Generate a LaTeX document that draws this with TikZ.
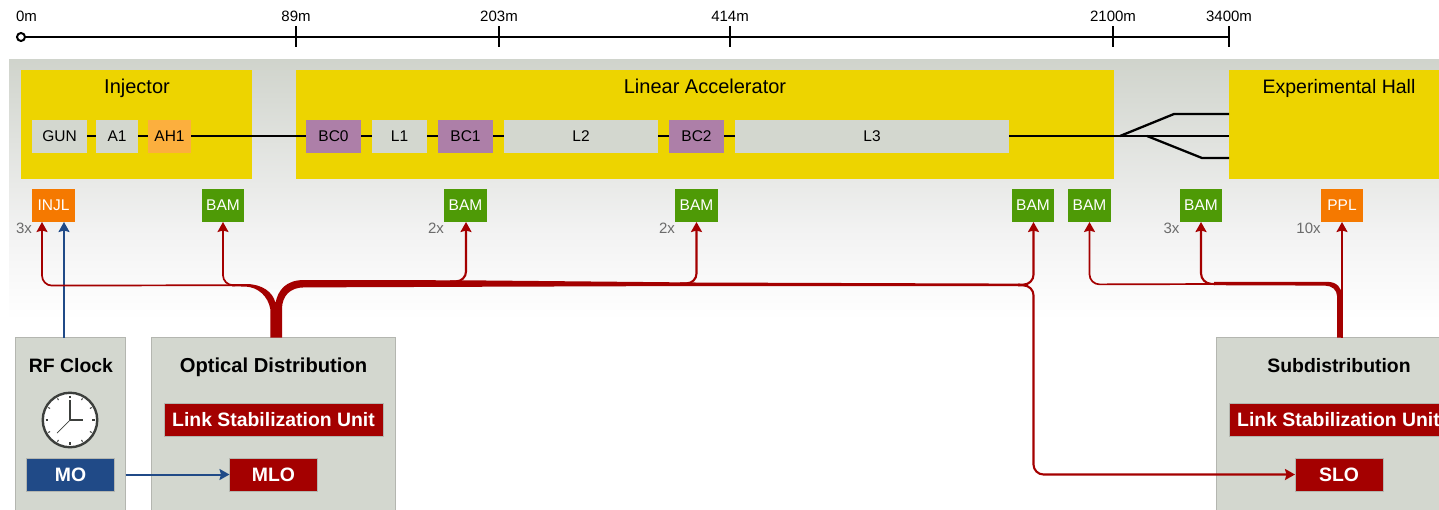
\documentclass[tikz,border=0pt]{standalone}
\usepackage{fontspec}
\setmainfont{Liberation Sans}
\usetikzlibrary{arrows.meta,calc}
\definecolor{tyellow}{HTML}{EDD400}
\definecolor{tgray}{HTML}{D3D7CF}
\definecolor{tborder}{HTML}{B4B6B0}
\definecolor{torange}{HTML}{F57900}
\definecolor{tlorange}{HTML}{FCAF3E}
\definecolor{tpurple}{HTML}{AD7FA8}
\definecolor{tgreen}{HTML}{4E9A06}
\definecolor{tred}{HTML}{A40000}
\definecolor{tblue}{HTML}{204A87}
\definecolor{tdark}{HTML}{3C3F3C}
\tikzset{
  x=1pt,y=-1pt,
  sz/.style={font=\fontsize{#1}{#1}\selectfont},
  box/.style={rectangle,inner sep=0pt,outer sep=0pt,minimum height=33pt},
  comp/.style={box,fill=tgray,text=black,sz=15.5},
  bc/.style={box,fill=tpurple,text=black,sz=15.5},
  diag/.style={box,text=white,sz=15.5,minimum width=42.5pt},
  bam/.style={diag,fill=tgreen},
  orng/.style={diag,fill=torange},
  unit/.style={box,fill=tred,draw=tborder,line width=.5pt,text=white,font=\fontsize{19.4}{19.4}\selectfont\bfseries},
  section/.style={rectangle,inner sep=0pt,outer sep=0pt,fill=tyellow,minimum height=109pt,anchor=north west},
  house/.style={rectangle,inner sep=0pt,outer sep=0pt,fill=tgray,draw=tborder,line width=.8pt,minimum height=180pt,anchor=north west},
  sectitle/.style={inner sep=0pt,anchor=base,sz=20},
  housetitle/.style={inner sep=0pt,anchor=base,font=\fontsize{19.4}{19.4}\selectfont\bfseries},
  dist/.style={inner sep=0pt,sz=15},
  count/.style={inner sep=0pt,sz=15,text=black!58},
  beam/.style={line width=2.3pt,black},
  tick/.style={line width=1.9pt,black},
  rthin/.style={draw=tred,line width=1.7pt,rounded corners=10pt},
  rmid/.style={draw=tred,line width=2.1pt,rounded corners=10pt},
  tip/.style={-{Stealth[length=10pt,width=11pt,inset=1.5pt]}},
  bthin/.style={draw=tblue,line width=2pt},
}
\begin{document}
\begin{tikzpicture}
\useasboundingbox (0,0) rectangle (1439,509);
\clip (0,0) rectangle (1439,509);
% band
\fill[top color=tgray!98!black!98,bottom color=black!5!white] (9,59) rectangle (1439,231);
\fill[top color=black!5!white,bottom color=white] (9,230.5) rectangle (1439,320);
% axis
\coordinate (ax0) at (21,37);
\node[draw=black,line width=2pt,circle,minimum size=8pt,inner sep=0pt,outer sep=0pt] (origin) at (ax0) {};
\foreach \n/\x/\lab in {t1/296/89m,t2/499/203m,t3/730/414m,t4/1113/2100m,t5/1229/3400m}{
  \coordinate (\n) at (\x,37);
  \draw[tick] (\x,26) -- (\x,47);
  \node[dist] (\n l) at (\x,16) {\lab};
}
\node[dist] (t0l) at (26.5,16) {0m};
\draw[beam] (origin) -- (t5);
% sections
\node[section,minimum width=231pt] (inj) at (21,70) {};
\node[section,minimum width=818.5pt] (lin) at (295.5,70) {};
\node[section,minimum width=215pt] (exp) at (1229,70) {};
\node[sectitle] at (137,93.5) {Injector};
\node[sectitle] at (705,93.5) {Linear Accelerator};
\node[sectitle,sz=19.5] at (1339,93.5) {Experimental Hall};
% beamline
\node[comp,minimum width=55pt] (gun) at (59.5,136) {GUN};
\node[comp,minimum width=42pt] (a1) at (117,136) {A1};
\node[box,fill=tlorange,text=black,sz=15.5,minimum width=43pt] (ah1) at (169.5,136) {AH1};
\node[bc,minimum width=55pt] (bc0) at (333.5,136) {BC0};
\node[comp,minimum width=55pt] (l1) at (399.5,136) {L1};
\node[bc,minimum width=55pt] (bc1) at (465.5,136) {BC1};
\node[comp,minimum width=154pt] (l2) at (581,136) {L2};
\node[bc,minimum width=55pt] (bc2) at (696.5,136) {BC2};
\node[comp,minimum width=274pt] (l3) at (872,136) {L3};
\draw[beam] (gun) -- (a1);
\draw[beam] (a1) -- (ah1);
\draw[beam] (ah1) -- (bc0);
\draw[beam] (bc0) -- (l1);
\draw[beam] (l1) -- (bc1);
\draw[beam] (bc1) -- (l2);
\draw[beam] (l2) -- (bc2);
\draw[beam] (bc2) -- (l3);
\coordinate (sp1) at (1120,136);
\coordinate (sp2) at (1147,136);
\draw[beam] (l3) -- (exp.west |- l3);
\draw[beam] (sp1) -- (1174,114) -- (exp.west |- 0,114);
\draw[beam] (sp2) -- (1202,158) -- (exp.west |- 0,158);
% diagnostics
\node[orng] (injl) at (53.5,205.5) {INJL};
\node[bam] (bam1) at (223,205.5) {BAM};
\node[bam] (bam2) at (465.5,205.5) {BAM};
\node[bam] (bam3) at (696.5,205.5) {BAM};
\node[bam] (bam4) at (1033,205.5) {BAM};
\node[bam] (bam5) at (1089.5,205.5) {BAM};
\node[bam] (bam6) at (1201,205.5) {BAM};
\node[orng] (ppl) at (1342,205.5) {PPL};
\node[count] at (24,228) {3x};
\node[count] at (436,228) {2x};
\node[count] at (667,228) {2x};
\node[count] at (1171.5,228) {3x};
\node[count] at (1308.5,228) {10x};
% houses
\node[house,minimum width=110.5pt] (rf) at (15,337.5) {};
\node[house,minimum width=244pt] (od) at (151,337.5) {};
\node[house,minimum width=240pt] (sub) at (1216,337.5) {};
\node[housetitle] at (71,372) {RF Clock};
\node[housetitle,font=\fontsize{20.2}{20.2}\selectfont\bfseries] at (273.5,372) {Optical Distribution};
\node[housetitle] at (1339,372) {Subdistribution};
\node[unit,minimum width=219.5pt] (lsu1) at (273.5,420) {Link Stabilization Unit};
\node[unit,minimum width=219.5pt] (lsu2) at (1338.5,420) {Link Stabilization Unit};
\node[unit,minimum width=88pt,fill=tblue] (mo) at (70.5,474.5) {MO};
\node[unit,minimum width=88pt] (mlo) at (273.5,474.5) {MLO};
\node[unit,minimum width=88pt] (slo) at (1339,474.5) {SLO};
% clock
\node[circle,fill=white,draw=tdark,line width=2.4pt,minimum size=54.5pt,inner sep=0pt,outer sep=0pt] (clock) at (70,420) {};
\foreach \a in {0,90,180,270}{\draw[tdark,line width=2pt] ($(clock.center)+(\a:24.5)$) -- ($(clock.center)+(\a:22)$);}
\foreach \a in {30,60,120,150,210,240,300,330}{\draw[tdark,line width=1pt] ($(clock.center)+(\a:25)$) -- ($(clock.center)+(\a:23)$);}
\draw[tdark,line width=1.4pt] (clock.center) -- (70,400);
\draw[tdark,line width=2.4pt] (clock.center) -- (83,420);
\draw[tdark,line width=.7pt] (clock.center) -- (57,433);
% RF links
\coordinate (inB) at (64,222);
\draw[bthin,tip] (rf.north -| inB) -- (inB);
\draw[bthin,tip] (mo.east -| rf.east) -- (mlo);
% optical trunk and tapered branches
\fill[tred] (270.3,337.5) -- (270.3,309)
  .. controls (268,296) and (258,287.3) .. (246,286.6) -- (232,286.3)
  -- (232,284) -- (246,284)
  .. controls (262,284) and (273,292) .. (275.5,303)
  .. controls (278,290) and (286,280) .. (304,280)
  -- (466,280.3) -- (696,282.5) -- (1020,283.6)
  -- (1020,286) -- (696,286) -- (466,286.8) -- (304,287.4)
  .. controls (290,287.4) and (282,296) .. (282,309)
  -- (282,337.5) -- cycle;
\coordinate (jL) at (235,285.2);
\coordinate (ji) at (42,222);
\draw[rthin,tip] (jL) -- (42,285.6) -- (ji);
\coordinate (j1) at (223,222);
\draw[rthin,tip] (jL) -- (223,285.2) -- (j1);
\coordinate (j2) at (466,222);
\draw[rmid,tip] (450,281.4) -- (466,281.4) -- (j2);
\coordinate (j3) at (696.5,222);
\draw[rmid,tip] (680,283.4) -- (696.5,283.4) -- (j3);
\coordinate (j4) at (1033.5,222);
\draw[rmid,tip] (1018,284.6) -- (1033.5,284.6) -- (j4);
\draw[rmid,tip] (1018,285.4) -- (1033.5,285.4) -- (1033.5,474.5) -- (slo.west);
% subdistribution
\fill[tred] (1337,337.5) -- (1337,296)
  .. controls (1337,290) and (1332,285.6) .. (1325,285.6)
  -- (1214,285.2) -- (1214,281.8) -- (1327,281.8)
  .. controls (1337,281.8) and (1342,288) .. (1342,296)
  -- (1342,337.5) -- cycle;
\coordinate (jS) at (1215,284);
\coordinate (j5) at (1089.5,222);
\draw[rthin,tip] (jS) -- (1089.5,284.4) -- (j5);
\coordinate (j6) at (1201,222);
\draw[rmid,tip] (jS) -- (1201,283.4) -- (j6);
\coordinate (j7) at (1342,222);
\draw[draw=tred,line width=1.7pt,tip] (sub.north -| j7) -- (j7);
\end{tikzpicture}
\end{document}
